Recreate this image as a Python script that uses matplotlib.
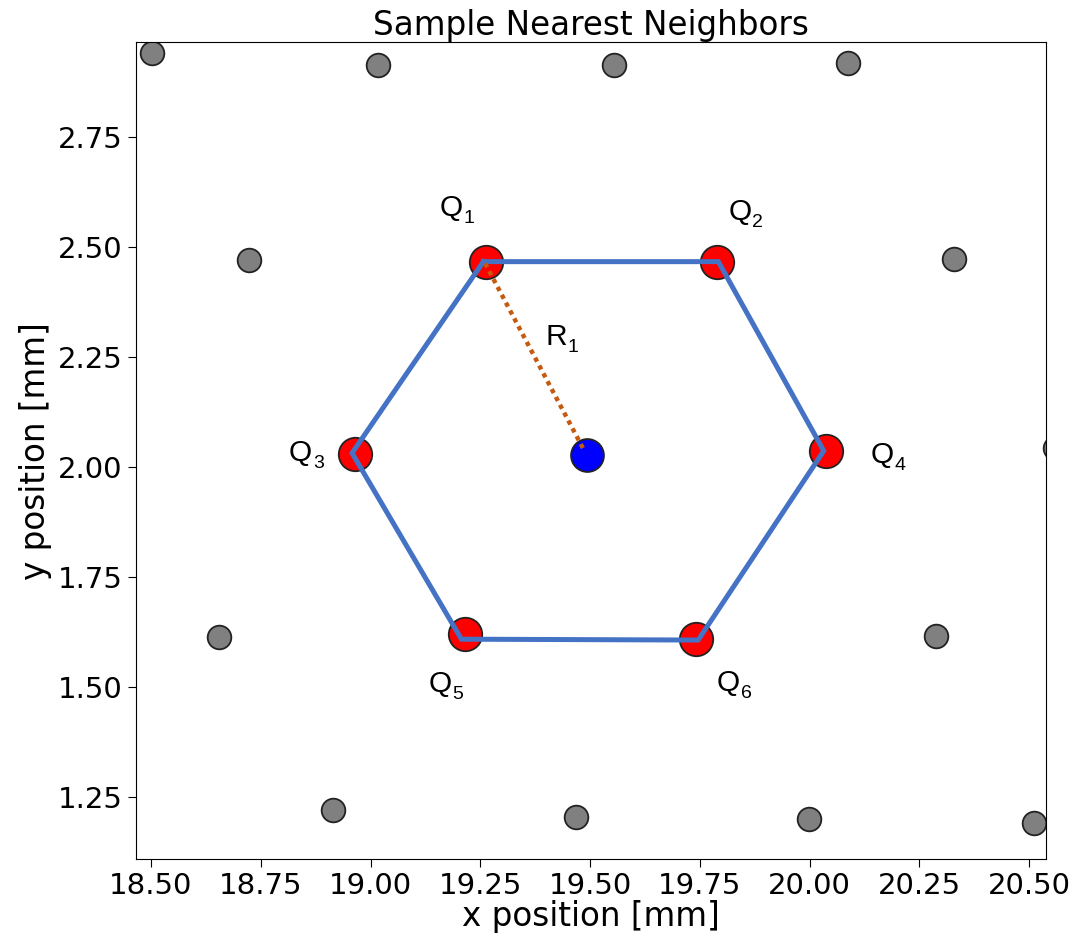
import numpy as np
import matplotlib
matplotlib.use('Agg')
from matplotlib import pyplot as plt

# lattice points (mm)
gray_x = [18.503, 19.016, 19.554, 20.087, 18.723, 20.328, 20.558, 18.655, 20.287, 18.915, 19.469, 19.999, 20.510]
gray_y = [2.940, 2.913, 2.913, 2.917, 2.469, 2.472, 2.042, 1.613, 1.615, 1.220, 1.205, 1.199, 1.190]

red_x = [19.264, 19.788, 18.964, 20.037, 19.215, 19.742]
red_y = [2.466, 2.466, 2.028, 2.035, 1.619, 1.608]

blue_x = [19.494]
blue_y = [2.027]

# hexagon drawn over the neighbours
hex_x = [19.257, 19.792, 20.032, 19.746, 19.207, 18.958, 19.257]
hex_y = [2.466, 2.466, 2.036, 1.606, 1.608, 2.031, 2.466]

# radius line Q1 -> centre
r_x = [19.261, 19.488]
r_y = [2.462, 2.034]

# annotations: letter, subscript, anchor (where letter ends, on baseline)
lab_main = ['Q', 'Q', 'Q', 'Q', 'Q', 'Q', 'R']
lab_sub = ['1', '2', '3', '4', '5', '6', '1']
lab_x = [19.210, 19.868, 18.867, 20.192, 19.185, 19.841, 19.447]
lab_y = [2.569, 2.561, 2.012, 2.008, 1.488, 1.490, 2.277]

fig = plt.figure(figsize=(10.81, 9.42), dpi=100)
ax = fig.add_axes([0.1258, 0.0881, 0.8418, 0.867])

ax.scatter(gray_x, gray_y, s=290, c='gray', edgecolors='#222222', linewidths=1.3, zorder=2)
ax.scatter(red_x, red_y, s=580, c='red', edgecolors='#222222', linewidths=1.3, zorder=2)
ax.scatter(blue_x, blue_y, s=560, c='blue', edgecolors='#222222', linewidths=1.3, zorder=2)

ax.plot(hex_x, hex_y, color='#4472C4', linewidth=3.6, zorder=3, solid_joinstyle='miter')
ax.plot(r_x, r_y, color='#C55A11', linewidth=3.2, linestyle=(0, (1, 1)), zorder=4)

for m, sub, lx, ly in zip(lab_main, lab_sub, lab_x, lab_y):
    ax.text(lx, ly, m, fontsize=21.5, family='Liberation Sans', ha='right', va='baseline', zorder=5)
    ax.annotate(sub, (lx, ly), xytext=(0.5, -5), textcoords='offset points',
                fontsize=14, family='Liberation Sans', ha='left', va='baseline', zorder=5)

ax.set_xlim(18.466, 20.538)
ax.set_ylim(1.1084, 2.9645)
ax.set_xticks([18.50, 18.75, 19.00, 19.25, 19.50, 19.75, 20.00, 20.25, 20.50])
ax.set_yticks([1.25, 1.50, 1.75, 2.00, 2.25, 2.50, 2.75])
ax.xaxis.set_major_formatter(matplotlib.ticker.FormatStrFormatter('%.2f'))
ax.yaxis.set_major_formatter(matplotlib.ticker.FormatStrFormatter('%.2f'))
ax.tick_params(labelsize=21, length=6)
ax.set_xlabel('x position [mm]', fontsize=23.5, labelpad=0)
ax.set_ylabel('y position [mm]', fontsize=23.5, labelpad=4)
ax.set_title('Sample Nearest Neighbors', fontsize=23.5, pad=5)

plt.savefig('out.png', dpi=100)
